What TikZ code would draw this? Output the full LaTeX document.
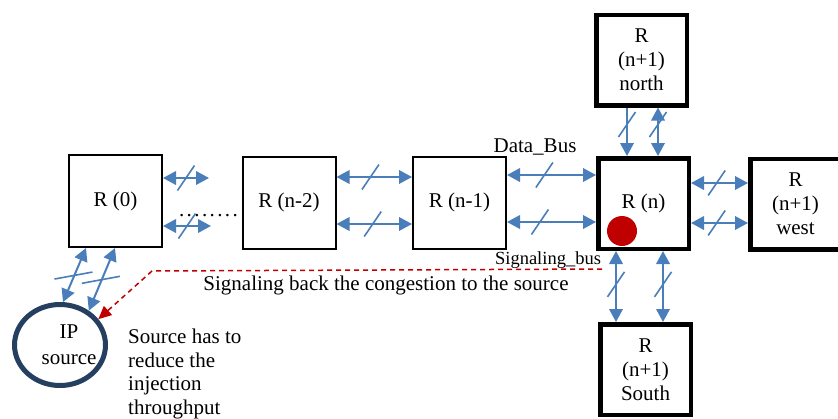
\documentclass[tikz,border=0pt]{standalone}
\usepackage{fontspec}
\setmainfont{Liberation Serif}
\usetikzlibrary{arrows.meta,shapes.geometric,calc}
\definecolor{busblue}{HTML}{4A7EBB}
\definecolor{alertred}{HTML}{C00000}
\definecolor{navy}{HTML}{243F60}
% slash mark across a bus arrow, centred on a named point
\newcommand\busslash[1]{\draw[tick] ($(#1)+(-8.5,12.5)$) -- ($(#1)+(8.5,-12.5)$);}
\newcommand\dotrow{.\kern2.4pt.\kern2.4pt.\kern2.4pt.\kern2.4pt.\kern2.4pt.\kern2.4pt.\kern2.4pt.}
\begin{document}
\begin{tikzpicture}[x=1pt,y=-1pt,
  router/.style={draw=black, line width=2pt, minimum width=93pt, minimum height=92pt,
    inner sep=0pt, align=center, font=\fontsize{21}{24}\selectfont},
  hub/.style={router, line width=4.5pt, minimum width=90.5pt, minimum height=90.5pt},
  tip/.tip={Triangle[length=13pt,width=13.5pt]},
  bus/.style={draw=busblue, line width=2pt, tip-tip},
  busin/.style={draw=busblue, line width=2pt, -tip},
  tick/.style={draw=busblue, line width=1.6pt},
  sigline/.style={draw=alertred, line width=1.5pt, dash pattern=on 5pt off 4pt,
    -{Triangle[length=13pt,width=12pt]}},
  lbl/.style={font=\fontsize{21}{23.5}\selectfont, inner sep=0pt},
]
\useasboundingbox (0,0) rectangle (838,418);

% routers
\node[router] (r0)  at (115.5,201)   {R (0)};
\node[router] (rn2) at (289,202.5)   {R (n-2)};
\node[router] (rn1) at (459.5,202.5) {R (n-1)};
\node[hub]    (rn)  at (643.5,203.5) {R (n)};
\node[hub]    (rnn) at (641.5,60)    {R\\(n+1)\\north};
\node[hub]    (rnw) at (795.5,204)   {R\\(n+1)\\west};
\node[hub]    (rns) at (645.5,369.5) {R\\(n+1)\\South};

% congestion marker
\node[circle, fill=alertred, minimum size=30pt, inner sep=0pt] (dot) at (622,231) {};

% IP source
\node[ellipse, draw=navy, line width=5pt, minimum width=91pt, minimum height=81pt] (ip) at (60,345) {};
\node[lbl, align=center, font=\fontsize{21}{26}\selectfont] (iptext) at (69,345) {IP\\source};

% free ends of the buses leaving R (0)
\coordinate (e01a) at (209,178);
\coordinate (e01b) at (211,226);
\node[lbl] (dots) at (208.5,216) {\dotrow};

% horizontal buses
\draw[bus] (r0.east |- 0,178) -- (e01a) coordinate[midway] (m1);
\draw[bus] (r0.east |- 0,226) -- (e01b) coordinate[midway] (m2);
\draw[bus] (rn2.east |- 0,177) -- (rn1.west |- 0,177) coordinate[pos=.45] (m3);
\draw[bus] (rn2.east |- 0,224) -- (rn1.west |- 0,224) coordinate[pos=.48] (m4);
\draw[bus] (rn1.east |- 0,175) -- (rn.west |- 0,175) coordinate[pos=.42] (m5);
\draw[bus] (rn1.east |- 0,222) -- (rn.west |- 0,222) coordinate[pos=.37] (m6);
\draw[bus] (rn.east |- 0,183) -- (rnw.west |- 0,183) coordinate[pos=.45] (m7);
\draw[bus] (rn.east |- 0,223) -- (rnw.west |- 0,223) coordinate[pos=.45] (m8);

% vertical buses
\draw[busin] (rnn.south -| 627,0) -- (rn.north -| 627,0) coordinate[pos=.35] (m9);
\draw[bus] (rnn.south -| 658,0) -- (rn.north -| 658,0) coordinate[pos=.35] (m10);
\draw[bus] (rn.south -| 616,0) -- (rns.north -| 616,0) coordinate[pos=.47] (m11);
\draw[bus] (rn.south -| 663,0) -- (rns.north -| 663,0) coordinate[pos=.47] (m12);

\foreach \m in {m1,m2,m3,m4,m5,m6,m7,m8,m9,m10,m11,m12}{\busslash{\m}}

% buses between R (0) and the IP source
\draw[bus] (r0.south -| 86,0) -- (ip.86) coordinate[midway] (d1);
\draw[bus] (r0.south -| 115,0) -- (ip.50) coordinate[midway] (d2);
\draw[tick] ($(d1)+(-20,4)$) -- ($(d1)+(18,-3)$);
\draw[tick] ($(d2)+(-20,4)$) -- ($(d2)+(18,-3)$);

% congestion signal back to the source
\coordinate (sig) at (602,269);
\coordinate (bend) at (152,271);
\draw[sigline] (sig) -- (bend) -- (ip.34);

% labels
\node[lbl] (databus) at (535,147) {Data\_Bus};
\node[lbl, font=\fontsize{18.5}{20}\selectfont] (sigbus) at (548,260) {Signaling\_bus};
\node[lbl] (sigback) at (386,285) {Signaling back the congestion to the source};
\node[lbl, align=left, anchor=west] (note) at (128,374) {Source has to\\reduce the\\injection\\throughput};
\end{tikzpicture}
\end{document}
